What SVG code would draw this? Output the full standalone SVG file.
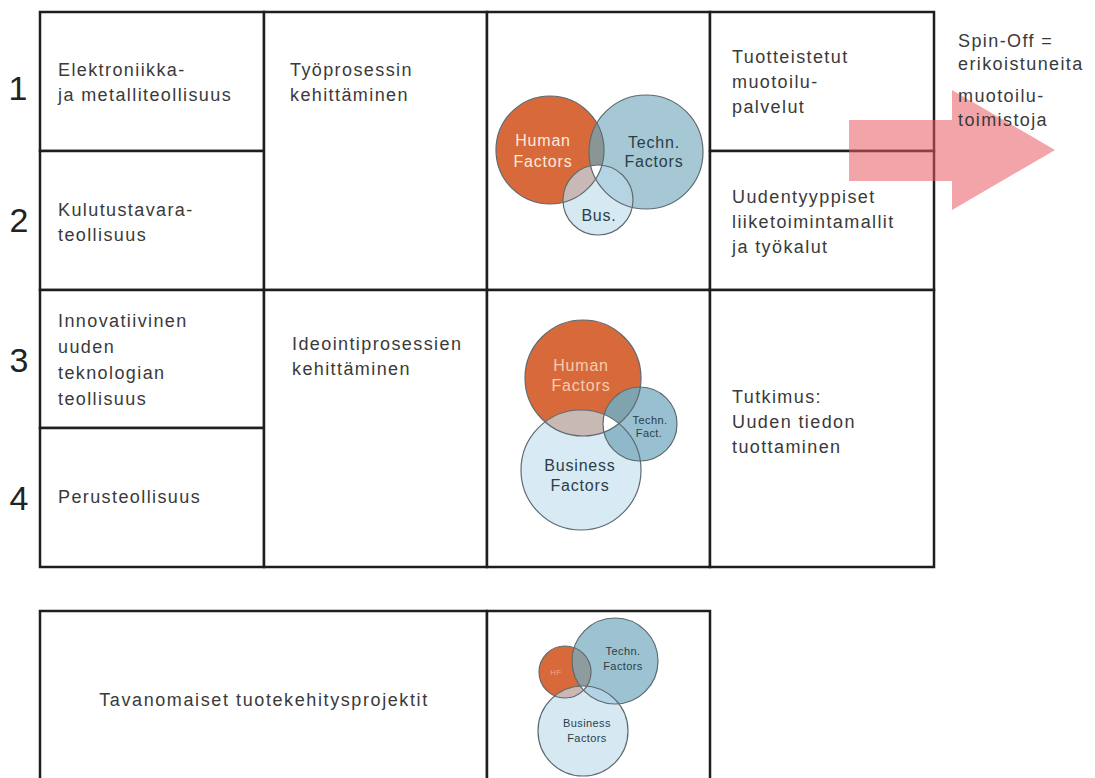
<svg xmlns="http://www.w3.org/2000/svg" width="1095" height="778" viewBox="0 0 1095 778">
<style>
.cell{fill:#fff;stroke:#1e1e1e;stroke-width:2.5}
.t{font-family:"Liberation Sans",Arial,sans-serif;font-size:18px;letter-spacing:1.4px;fill:#3a3a3a}
.num{font-family:"Liberation Sans",Arial,sans-serif;font-size:34px;fill:#222;text-anchor:middle}
.vw{font-family:"Liberation Sans",Arial,sans-serif;font-size:16px;letter-spacing:0.8px;fill:#fbe9dd;text-anchor:middle}
.vd{font-family:"Liberation Sans",Arial,sans-serif;font-size:16px;letter-spacing:0.8px;fill:#2b3e48;text-anchor:middle}
.vs{font-family:"Liberation Sans",Arial,sans-serif;font-size:11px;letter-spacing:0.4px;fill:#2b3e48;text-anchor:middle}
.ol{fill:none;stroke:#5f6a70;stroke-width:1.2}
.hum{fill:#d8693a}
</style>
<defs>
<clipPath id="v1h"><circle cx="550" cy="150" r="54"/></clipPath>
<clipPath id="v1t"><circle cx="646" cy="152" r="57"/></clipPath>
<clipPath id="v2h"><circle cx="583" cy="378" r="58"/></clipPath>
<clipPath id="v2t"><circle cx="640" cy="424" r="37"/></clipPath>
<clipPath id="v3h"><circle cx="565" cy="672" r="26"/></clipPath>
<clipPath id="v3t"><circle cx="615" cy="661" r="43"/></clipPath>
</defs>
<rect width="1095" height="778" fill="#fff"/>

<g id="row-numbers">
<text class="num" x="18" y="100">1</text>
<text class="num" x="19" y="232">2</text>
<text class="num" x="19" y="372">3</text>
<text class="num" x="19" y="510">4</text>
</g>

<g id="cell-elektroniikka"><rect class="cell" x="40" y="12" width="224" height="139"/>
<text class="t" x="58" y="76">Elektroniikka-</text><text class="t" x="58" y="101">ja metalliteollisuus</text></g>
<g id="cell-kulutustavara"><rect class="cell" x="40" y="151" width="224" height="139"/>
<text class="t" x="58" y="216">Kulutustavara-</text><text class="t" x="58" y="241">teollisuus</text></g>
<g id="cell-innovatiivinen"><rect class="cell" x="40" y="290" width="224" height="138"/>
<text class="t" x="58" y="327">Innovatiivinen</text><text class="t" x="58" y="353">uuden</text><text class="t" x="58" y="379">teknologian</text><text class="t" x="58" y="405">teollisuus</text></g>
<g id="cell-perusteollisuus"><rect class="cell" x="40" y="428" width="224" height="139"/>
<text class="t" x="58" y="503">Perusteollisuus</text></g>
<g id="cell-tyoprosessi"><rect class="cell" x="264" y="12" width="223" height="278"/>
<text class="t" x="290" y="76">Työprosessin</text><text class="t" x="290" y="101">kehittäminen</text></g>
<g id="cell-ideointi"><rect class="cell" x="264" y="290" width="223" height="277"/>
<text class="t" x="292" y="350">Ideointiprosessien</text><text class="t" x="292" y="375">kehittäminen</text></g>
<g id="cell-venn1"><rect class="cell" x="487" y="12" width="223" height="278"/>
<circle class="hum" cx="550" cy="150" r="54"/>
<circle cx="646" cy="152" r="57" fill="#a6c8d4"/>
<circle cx="598" cy="200" r="35" fill="#d6e9f3"/>
<g clip-path="url(#v1h)"><circle cx="646" cy="152" r="57" fill="#8a9696"/><circle cx="598" cy="200" r="35" fill="#c8b8b6"/></g>
<g clip-path="url(#v1t)"><circle cx="598" cy="200" r="35" fill="#b4d4e4"/></g>
<g clip-path="url(#v1h)"><g clip-path="url(#v1t)"><circle cx="598" cy="200" r="35" fill="#fff"/></g></g>
<circle class="ol" cx="550" cy="150" r="54"/><circle class="ol" cx="646" cy="152" r="57"/><circle class="ol" cx="598" cy="200" r="35"/>
<text class="vw" x="543" y="146">Human</text><text class="vw" x="543" y="167">Factors</text>
<text class="vd" x="654" y="148">Techn.</text><text class="vd" x="654" y="167">Factors</text>
<text class="vd" x="599" y="221">Bus.</text></g>
<g id="cell-venn2"><rect class="cell" x="487" y="290" width="223" height="277"/>
<circle class="hum" cx="583" cy="378" r="58"/>
<circle cx="581" cy="470" r="60" fill="#d8eaf4"/>
<circle cx="640" cy="424" r="37" fill="#98c0d0"/>
<g clip-path="url(#v2h)"><circle cx="581" cy="470" r="60" fill="#c9b9b5"/><circle cx="640" cy="424" r="37" fill="#7fa4ae"/></g>
<g clip-path="url(#v2t)"><circle cx="581" cy="470" r="60" fill="#8fb9ca"/></g>
<g clip-path="url(#v2h)"><g clip-path="url(#v2t)"><circle cx="581" cy="470" r="60" fill="#fff"/></g></g>
<circle class="ol" cx="583" cy="378" r="58"/><circle class="ol" cx="581" cy="470" r="60"/><circle class="ol" cx="640" cy="424" r="37"/>
<text class="vw" x="581" y="371" style="fill:#f3cdb0">Human</text><text class="vw" x="581" y="391" style="fill:#f3cdb0">Factors</text>
<text class="vs" x="650" y="424">Techn.</text><text class="vs" x="649" y="437">Fact.</text>
<text class="vd" x="580" y="471">Business</text><text class="vd" x="580" y="491">Factors</text></g>
<g id="cell-tuotteistetut"><rect class="cell" x="710" y="12" width="224" height="139"/>
<text class="t" x="732" y="63">Tuotteistetut</text><text class="t" x="732" y="88">muotoilu-</text><text class="t" x="732" y="113">palvelut</text></g>
<g id="cell-uudentyyppiset"><rect class="cell" x="710" y="151" width="224" height="139"/>
<text class="t" x="732" y="203">Uudentyyppiset</text><text class="t" x="732" y="228">liiketoimintamallit</text><text class="t" x="732" y="253">ja työkalut</text></g>
<g id="cell-tutkimus"><rect class="cell" x="710" y="290" width="224" height="277"/>
<text class="t" x="732" y="403">Tutkimus:</text><text class="t" x="732" y="428">Uuden tiedon</text><text class="t" x="732" y="453">tuottaminen</text></g>

<g id="cell-tavanomaiset"><rect class="cell" x="40" y="611" width="447" height="200"/>
<text class="t" x="264" y="706" text-anchor="middle" style="letter-spacing:1.6px">Tavanomaiset tuotekehitysprojektit</text></g>
<g id="cell-venn3"><rect class="cell" x="487" y="611" width="223" height="200"/>
<circle cx="615" cy="661" r="43" fill="#9dc2d1"/>
<circle class="hum" cx="565" cy="672" r="26"/>
<circle cx="583" cy="731" r="45" fill="#d6e9f3"/>
<g clip-path="url(#v3h)"><circle cx="615" cy="661" r="43" fill="#8f9c9f"/><circle cx="583" cy="731" r="45" fill="#cbb8b5"/></g>
<g clip-path="url(#v3t)"><circle cx="583" cy="731" r="45" fill="#b2d3e3"/></g>
<g clip-path="url(#v3h)"><g clip-path="url(#v3t)"><circle cx="583" cy="731" r="45" fill="#fff"/></g></g>
<circle class="ol" cx="615" cy="661" r="43"/><circle class="ol" cx="565" cy="672" r="26"/><circle class="ol" cx="583" cy="731" r="45"/>
<text class="vs" x="556" y="675" style="font-size:8px;fill:#f0a585">HF</text>
<text class="vs" x="623" y="655">Techn.</text><text class="vs" x="623" y="670">Factors</text>
<text class="vs" x="587" y="727">Business</text><text class="vs" x="587" y="742">Factors</text></g>

<g id="connectors">
<polygon points="849,120 952,120 952,90 1055,150 952,210 952,181 849,181" fill="#e85a60" fill-opacity="0.55"/>
</g>
<g id="spin-off">
<text class="t" x="958" y="47">Spin-Off =</text>
<text class="t" x="958" y="70">erikoistuneita</text>
<text class="t" x="958" y="102">muotoilu-</text>
<text class="t" x="958" y="126">toimistoja</text>
</g>
</svg>
